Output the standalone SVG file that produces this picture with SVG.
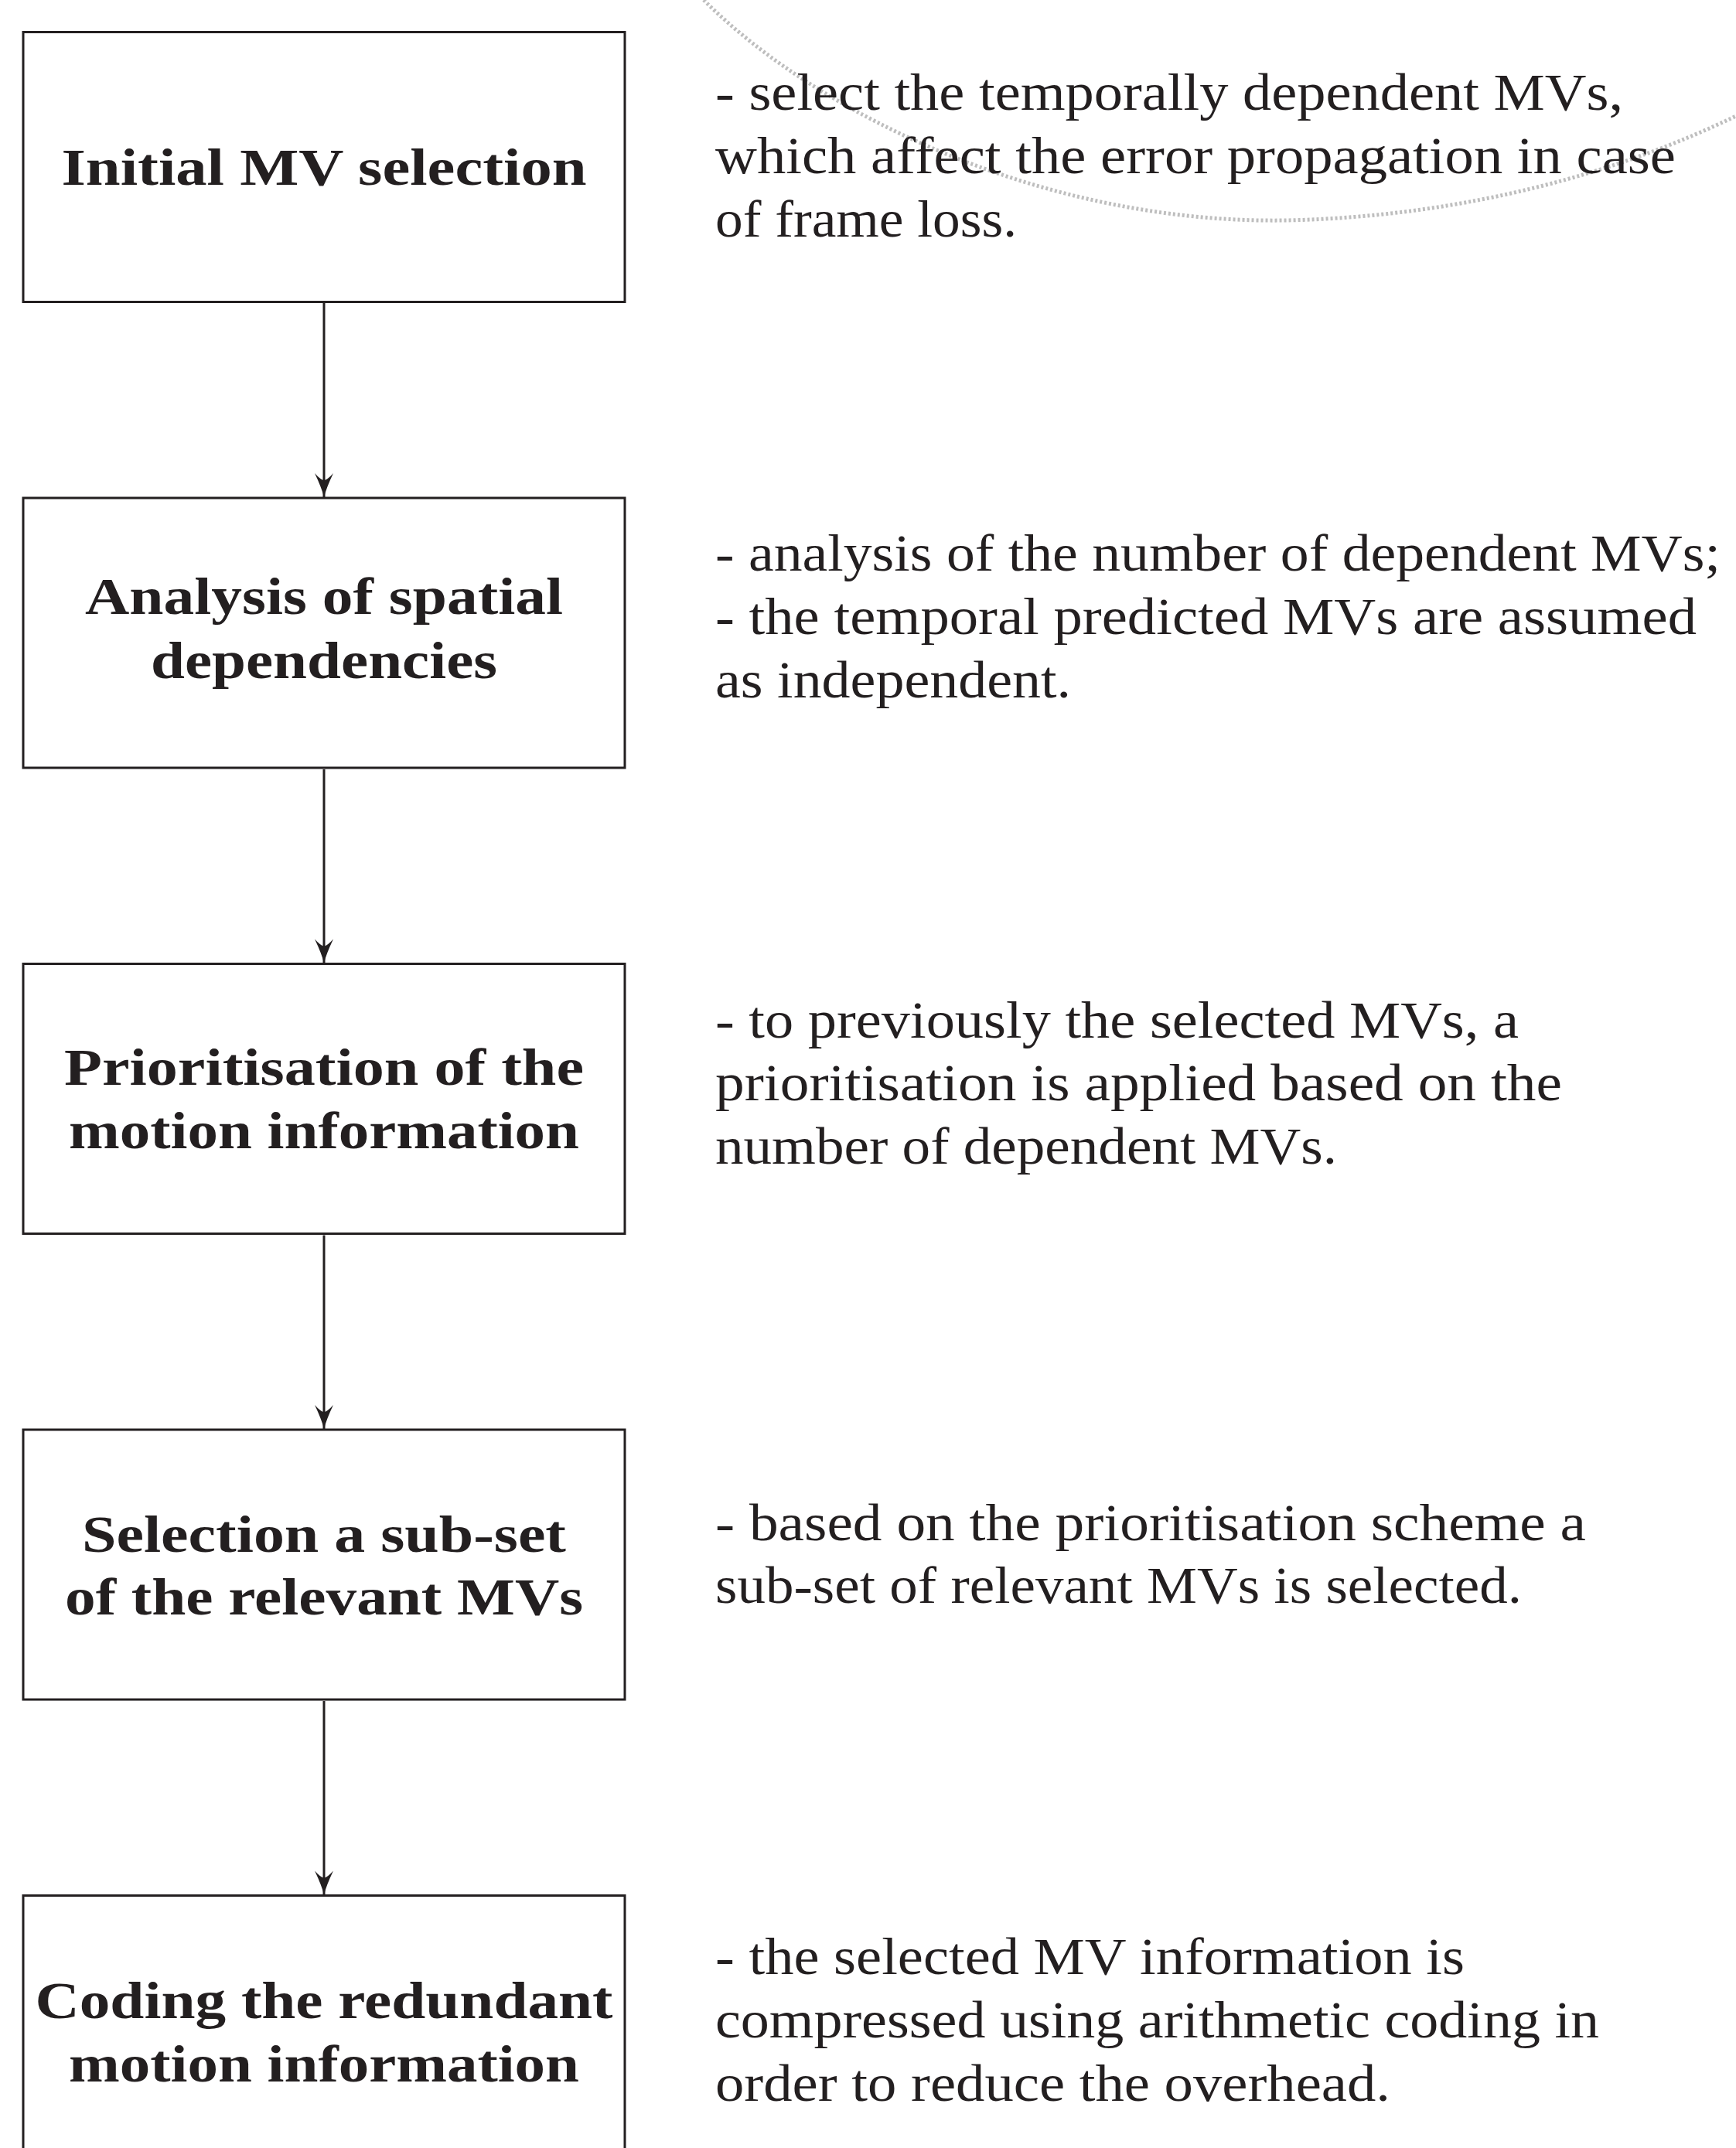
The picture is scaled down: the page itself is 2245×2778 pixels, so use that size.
<svg xmlns="http://www.w3.org/2000/svg" width="2245" height="2778" viewBox="0 0 2245 2778">
<style>
.box{fill:#ffffff;stroke:#231f20;stroke-width:3}
.lbl{font-family:"Liberation Serif","DejaVu Serif",serif;font-weight:bold;font-size:68px;fill:#231f20;text-anchor:middle}
.desc{font-family:"Liberation Serif","DejaVu Serif",serif;font-size:68px;fill:#231f20}
.conn{stroke:#231f20;stroke-width:3;fill:none}
.arc{stroke:#bebebe;stroke-width:5;fill:none;stroke-dasharray:3 3}
</style>
<defs>
<marker id="ah" viewBox="-33 -14 35 28" refX="0" refY="0" markerWidth="35" markerHeight="28" markerUnits="userSpaceOnUse" orient="auto">
<path d="M0,0 Q-12,-3 -31,-12 Q-22,-4 -22,0 Q-22,4 -31,12 Q-12,3 0,0 Z" fill="#231f20"/>
</marker>
</defs>
<rect width="2245" height="2778" fill="#ffffff"/>
<path class="arc" d="M910,0 C1060,150 1355,290 1663,285 C1900,280 2100,220 2245,150"/>
<g id="connectors">
<line class="conn" x1="419" y1="392" x2="419" y2="643" marker-end="url(#ah)"/>
<line class="conn" x1="419" y1="995" x2="419" y2="1245.5" marker-end="url(#ah)"/>
<line class="conn" x1="419" y1="1597.5" x2="419" y2="1848" marker-end="url(#ah)"/>
<line class="conn" x1="419" y1="2200" x2="419" y2="2450.5" marker-end="url(#ah)"/>
</g>
<g id="node1">
<rect class="box" x="30" y="41.5" width="778" height="349"/>
<text class="lbl" x="419" y="239" textLength="679" lengthAdjust="spacingAndGlyphs">Initial MV selection</text>
</g>
<g id="desc1">
<text class="desc" x="925" y="142" textLength="1174" lengthAdjust="spacingAndGlyphs">- select the temporally dependent MVs,</text>
<text class="desc" x="925" y="224" textLength="1242" lengthAdjust="spacingAndGlyphs">which affect the error propagation in case</text>
<text class="desc" x="925" y="306" textLength="390" lengthAdjust="spacingAndGlyphs">of frame loss.</text>
</g>
<g id="node2">
<rect class="box" x="30" y="644" width="778" height="349"/>
<text class="lbl" x="419" y="794" textLength="618" lengthAdjust="spacingAndGlyphs">Analysis of spatial</text>
<text class="lbl" x="419" y="877" textLength="448" lengthAdjust="spacingAndGlyphs">dependencies</text>
</g>
<g id="desc2">
<text class="desc" x="925" y="738" textLength="1300" lengthAdjust="spacingAndGlyphs">- analysis of the number of dependent MVs;</text>
<text class="desc" x="925" y="820" textLength="1269" lengthAdjust="spacingAndGlyphs">- the temporal predicted MVs are assumed</text>
<text class="desc" x="925" y="902" textLength="460" lengthAdjust="spacingAndGlyphs">as independent.</text>
</g>
<g id="node3">
<rect class="box" x="30" y="1246.5" width="778" height="349"/>
<text class="lbl" x="419" y="1403" textLength="672" lengthAdjust="spacingAndGlyphs">Prioritisation of the</text>
<text class="lbl" x="419" y="1485" textLength="660" lengthAdjust="spacingAndGlyphs">motion information</text>
</g>
<g id="desc3">
<text class="desc" x="925" y="1342" textLength="1039" lengthAdjust="spacingAndGlyphs">- to previously the selected MVs, a</text>
<text class="desc" x="925" y="1423" textLength="1095" lengthAdjust="spacingAndGlyphs">prioritisation is applied based on the</text>
<text class="desc" x="925" y="1505" textLength="804" lengthAdjust="spacingAndGlyphs">number of dependent MVs.</text>
</g>
<g id="node4">
<rect class="box" x="30" y="1849" width="778" height="349"/>
<text class="lbl" x="419" y="2007" textLength="626" lengthAdjust="spacingAndGlyphs">Selection a sub-set</text>
<text class="lbl" x="419" y="2088" textLength="670" lengthAdjust="spacingAndGlyphs">of the relevant MVs</text>
</g>
<g id="desc4">
<text class="desc" x="925" y="1992" textLength="1126" lengthAdjust="spacingAndGlyphs">- based on the prioritisation scheme a</text>
<text class="desc" x="925" y="2073" textLength="1043" lengthAdjust="spacingAndGlyphs">sub-set of relevant MVs is selected.</text>
</g>
<g id="node5">
<rect class="box" x="30" y="2451.5" width="778" height="349"/>
<text class="lbl" x="419" y="2610" textLength="747" lengthAdjust="spacingAndGlyphs">Coding the redundant</text>
<text class="lbl" x="419" y="2692" textLength="660" lengthAdjust="spacingAndGlyphs">motion information</text>
</g>
<g id="desc5">
<text class="desc" x="925" y="2553" textLength="969" lengthAdjust="spacingAndGlyphs">- the selected MV information is</text>
<text class="desc" x="925" y="2635" textLength="1143" lengthAdjust="spacingAndGlyphs">compressed using arithmetic coding in</text>
<text class="desc" x="925" y="2717" textLength="873" lengthAdjust="spacingAndGlyphs">order to reduce the overhead.</text>
</g>
</svg>
